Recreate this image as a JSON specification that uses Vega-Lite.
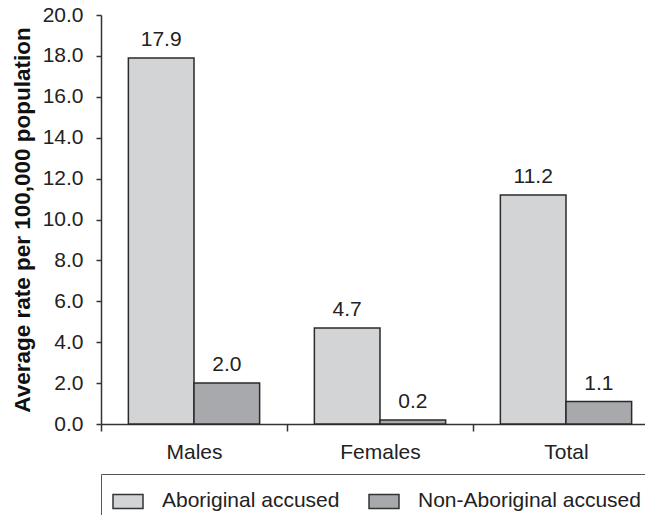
{
  "$schema": "https://vega.github.io/schema/vega-lite/v6.json",
  "width": 544,
  "height": 409,
  "autosize": {"type": "none"},
  "padding": {"left": 101, "top": 15, "right": 0, "bottom": 91},
  "config": {
    "view": {"stroke": null},
    "font": "Liberation Sans",
    "axis": {"grid": false}
  },
  "data": {
    "values": [
      {"group": "Males", "series": "Aboriginal accused", "value": 17.9},
      {"group": "Males", "series": "Non-Aboriginal accused", "value": 2.0},
      {"group": "Females", "series": "Aboriginal accused", "value": 4.7},
      {"group": "Females", "series": "Non-Aboriginal accused", "value": 0.2},
      {"group": "Total", "series": "Aboriginal accused", "value": 11.2},
      {"group": "Total", "series": "Non-Aboriginal accused", "value": 1.1}
    ]
  },
  "encoding": {
    "x": {
      "field": "group",
      "type": "nominal",
      "sort": ["Males", "Females", "Total"],
      "scale": {"range": [0, 558], "paddingInner": 0, "paddingOuter": 0},
      "axis": {
        "title": null,
        "labelAngle": 0,
        "tickBand": "extent",
        "tickSize": 7,
        "labelPadding": 10,
        "labelFontSize": 21,
        "labelColor": "#222",
        "domainColor": "#333",
        "domainWidth": 1.5,
        "tickColor": "#333",
        "tickWidth": 1.5
      }
    },
    "xOffset": {
      "field": "series",
      "type": "nominal",
      "sort": ["Aboriginal accused", "Non-Aboriginal accused"],
      "scale": {"paddingInner": 0, "paddingOuter": 0.417}
    },
    "y": {
      "field": "value",
      "type": "quantitative",
      "scale": {"domain": [0, 20], "nice": false},
      "axis": {
        "title": "Average rate per 100,000 population",
        "values": [0, 2, 4, 6, 8, 10, 12, 14, 16, 18, 20],
        "format": ".1f",
        "tickSize": 5,
        "labelPadding": 13,
        "labelFontSize": 21,
        "labelColor": "#222",
        "titleFontSize": 22.5,
        "titleFontWeight": "bold",
        "titleColor": "#111",
        "titlePadding": 8,
        "domainColor": "#333",
        "domainWidth": 1.5,
        "tickColor": "#333",
        "tickWidth": 1.5
      }
    }
  },
  "layer": [
    {
      "mark": {"type": "bar", "stroke": "#2a2a2a", "strokeWidth": 1.5},
      "encoding": {
        "fill": {
          "field": "series",
          "type": "nominal",
          "scale": {
            "domain": ["Aboriginal accused", "Non-Aboriginal accused"],
            "range": ["#d3d4d6", "#a8a9ac"]
          },
          "legend": {
            "orient": "none",
            "legendX": 0,
            "legendY": 459,
            "direction": "horizontal",
            "title": null,
            "strokeColor": "#555",
            "padding": 11,
            "symbolType": "M-1,-0.467H1V0.467H-1Z",
            "symbolSize": 900,
            "symbolStrokeColor": "#333",
            "symbolStrokeWidth": 1.5,
            "symbolOpacity": 1,
            "labelFontSize": 21,
            "labelColor": "#222",
            "labelLimit": 400,
            "labelOffset": 18,
            "columnPadding": 26
          }
        }
      }
    },
    {
      "mark": {"type": "text", "dy": -12, "baseline": "alphabetic", "fontSize": 21, "color": "#222"},
      "encoding": {
        "text": {"field": "value", "type": "quantitative", "format": ".1f"}
      }
    }
  ]
}
